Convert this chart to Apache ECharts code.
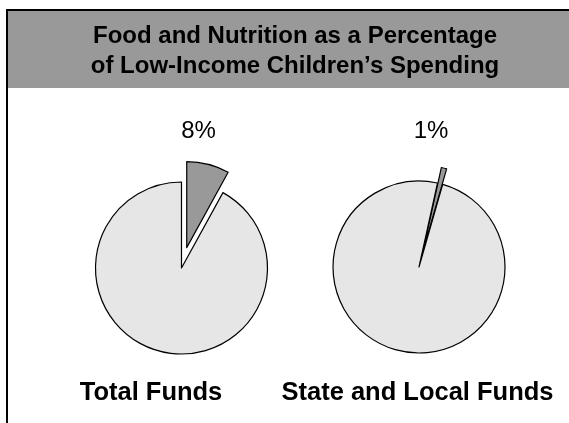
<!DOCTYPE html>
<html>
<head>
<meta charset="utf-8">
<style>
  html, body { margin: 0; padding: 0; background: #fff; }
  #chart { width: 569px; height: 423px; }
</style>
<script src="https://cdn.jsdelivr.net/npm/echarts@6/dist/echarts.min.js"></script>
</head>
<body>
<div id="chart"></div>
<script>
// Share of spending going to food and nutrition, by funding source
const titleLines = ['Food and Nutrition as a Percentage', 'of Low-Income Children\u2019s Spending'];
const pieNames = ['Total Funds', 'State and Local Funds'];
const categories = ['Food and Nutrition', 'Other'];
const foodShare = [8, 1];
const otherShare = [92, 99];
// the first pie starts its food slice at 12 o'clock, the second a little past it
const startAngles = [90, 77.6];
const explodeOffsets = [21, 16];

const FONT = '"Liberation Sans", Arial, sans-serif';
const DARK = '#999999';
const LIGHT = '#e6e6e6';

const centers = [[181.5, 268], [419, 267]];
const radius = 86;
const pctLabelX = [198.5, 431];
const nameLabelX = [151, 417.5];

const chart = echarts.init(document.getElementById('chart'), null, { renderer: 'canvas' });

function label(text, x, y, size, weight) {
  return {
    type: 'text',
    x: x,
    y: y,
    silent: true,
    z: 10,
    style: {
      text: text,
      x: 0,
      y: 0,
      fill: '#000',
      font: weight + ' ' + size + 'px ' + FONT,
      textAlign: 'center',
      textVerticalAlign: 'middle'
    }
  };
}

const series = pieNames.map((name, i) => ({
  type: 'pie',
  name: name,
  center: centers[i],
  radius: [0, radius],
  startAngle: startAngles[i],
  clockwise: true,
  selectedMode: 'multiple',
  selectedOffset: explodeOffsets[i],
  avoidLabelOverlap: false,
  animation: false,
  emphasis: { disabled: true },
  itemStyle: { borderColor: '#000', borderWidth: 1.2 },
  label: { show: false },
  labelLine: { show: false },
  data: [
    {
      name: categories[0],
      value: foodShare[i],
      selected: true,
      itemStyle: { color: DARK },
      select: { itemStyle: { color: DARK, borderColor: '#000', borderWidth: 1.2 } }
    },
    {
      name: categories[1],
      value: otherShare[i],
      itemStyle: { color: LIGHT }
    }
  ]
}));

const graphics = [
  // header band
  { type: 'rect', shape: { x: 7, y: 10, width: 600, height: 78 }, style: { fill: DARK }, silent: true, z: -10 },
  // outer frame (runs off the right and bottom edges)
  { type: 'rect', shape: { x: 7, y: 10, width: 600, height: 500 }, style: { fill: null, stroke: '#000', lineWidth: 2 }, silent: true, z: -5 },
  label(titleLines[0], 295, 36, 24, 'bold'),
  label(titleLines[1], 295, 66, 24, 'bold')
];
pieNames.forEach((name, i) => {
  graphics.push(label(foodShare[i] + '%', pctLabelX[i], 131, 24, 'normal'));
  graphics.push(label(name, nameLabelX[i], 393, 25.5, 'bold'));
});

chart.setOption({
  backgroundColor: '#fff',
  graphic: graphics,
  series: series
});
</script>
</body>
</html>
